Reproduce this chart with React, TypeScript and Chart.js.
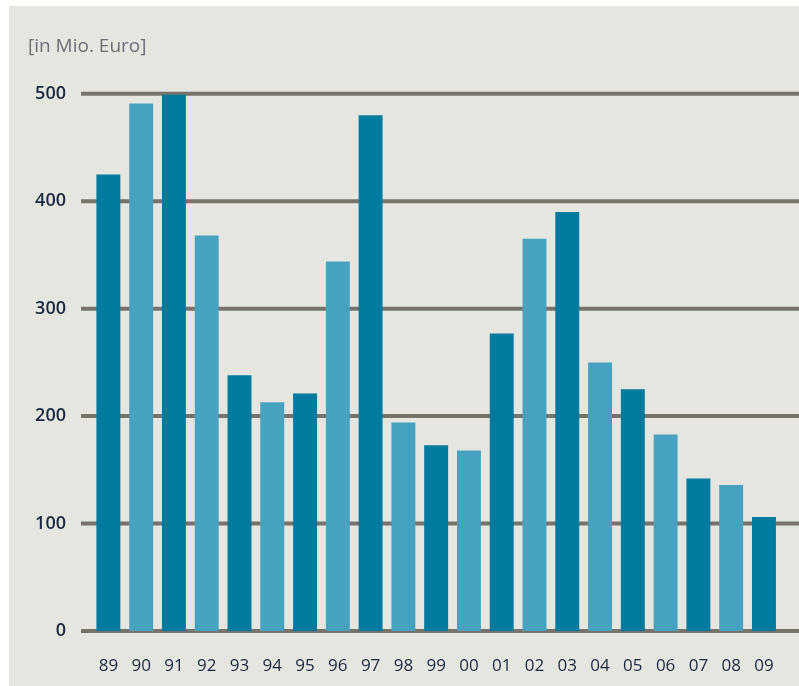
import React, { useEffect, useRef } from "react";
import { Chart, registerables } from "chart.js";

Chart.register(...registerables);

const years = ["89", "90", "91", "92", "93", "94", "95", "96", "97", "98", "99", "00", "01", "02", "03", "04", "05", "06", "07", "08", "09"];
const values = [425, 491, 499, 368, 238, 213, 221, 344, 480, 194, 173, 168, 277, 365, 390, 250, 225, 183, 142, 136, 106];
const yTicks = [0, 100, 200, 300, 400, 500];
const unitLabel = "[in Mio. Euro]";

const DARK = "#007a9f";
const LIGHT = "#47a2c0";
const BG = "#e6e6e1";
const GRID = "#77736a";
const TEXT = "#1c2840";

const bgPlugin = {
  id: "panelBg",
  beforeDraw(chart: any) {
    const { ctx, width, height } = chart;
    ctx.save();
    ctx.fillStyle = BG;
    ctx.fillRect(0, 0, width, height);
    ctx.restore();
  },
};

const gridPlugin = {
  id: "wideGrid",
  beforeDatasetsDraw(chart: any) {
    const { ctx, width } = chart;
    const y = chart.scales.y;
    const left = chart.chartArea.left - 11;
    ctx.save();
    ctx.strokeStyle = GRID;
    ctx.lineWidth = 4;
    ctx.lineCap = "butt";
    yTicks.forEach((v) => {
      const py = y.getPixelForValue(v);
      ctx.beginPath();
      ctx.moveTo(left, py);
      ctx.lineTo(width, py);
      ctx.stroke();
    });
    ctx.restore();
  },
};

export default function App() {
  const ref = useRef<HTMLCanvasElement | null>(null);
  useEffect(() => {
    if (!ref.current) return;
    const chart = new Chart(ref.current, {
      type: "bar",
      data: {
        labels: years,
        datasets: [
          {
            data: values,
            backgroundColor: values.map((_, i) => (i % 2 === 0 ? DARK : LIGHT)),
            borderWidth: 0,
            barPercentage: 0.73,
            categoryPercentage: 1,
          },
        ],
      },
      options: {
        animation: false,
        responsive: false,
        maintainAspectRatio: false,
        layout: { padding: { top: 0, right: 14, bottom: 0, left: 19 } },
        plugins: {
          legend: { display: false },
          tooltip: { enabled: false },
          title: {
            display: true,
            text: unitLabel,
            align: "start",
            color: "#6d6f76",
            font: { family: "'Open Sans', sans-serif", size: 19, weight: "normal" },
            padding: { top: 29, bottom: 36 },
          },
        },
        scales: {
          x: {
            grid: { display: false, drawTicks: false },
            border: { display: false },
            ticks: {
              color: TEXT,
              font: { family: "'Open Sans', sans-serif", size: 17 },
              padding: 25,
              maxRotation: 0,
              autoSkip: false,
            },
            afterFit(scale: any) {
              scale.height = 55;
            },
          },
          y: {
            min: 0,
            max: 500,
            grid: { display: false, drawTicks: false },
            border: { display: false },
            afterBuildTicks(scale: any) {
              scale.ticks = yTicks.map((v) => ({ value: v }));
            },
            ticks: {
              color: TEXT,
              font: { family: "'Open Sans', sans-serif", size: 18, weight: "600" },
              padding: 26,
            },
            afterFit(scale: any) {
              scale.width = 64;
            },
          },
        },
      },
      plugins: [bgPlugin, gridPlugin],
    });
    return () => chart.destroy();
  }, []);

  return (
    <div style={{ background: "#ffffff", width: 799, height: 686, position: "relative" }}>
      <style>{"body{margin:0}"}</style>
      <canvas
        ref={ref}
        width={790}
        height={680}
        style={{ position: "absolute", left: 9, top: 6, width: 790, height: 680 }}
      />
    </div>
  );
}
